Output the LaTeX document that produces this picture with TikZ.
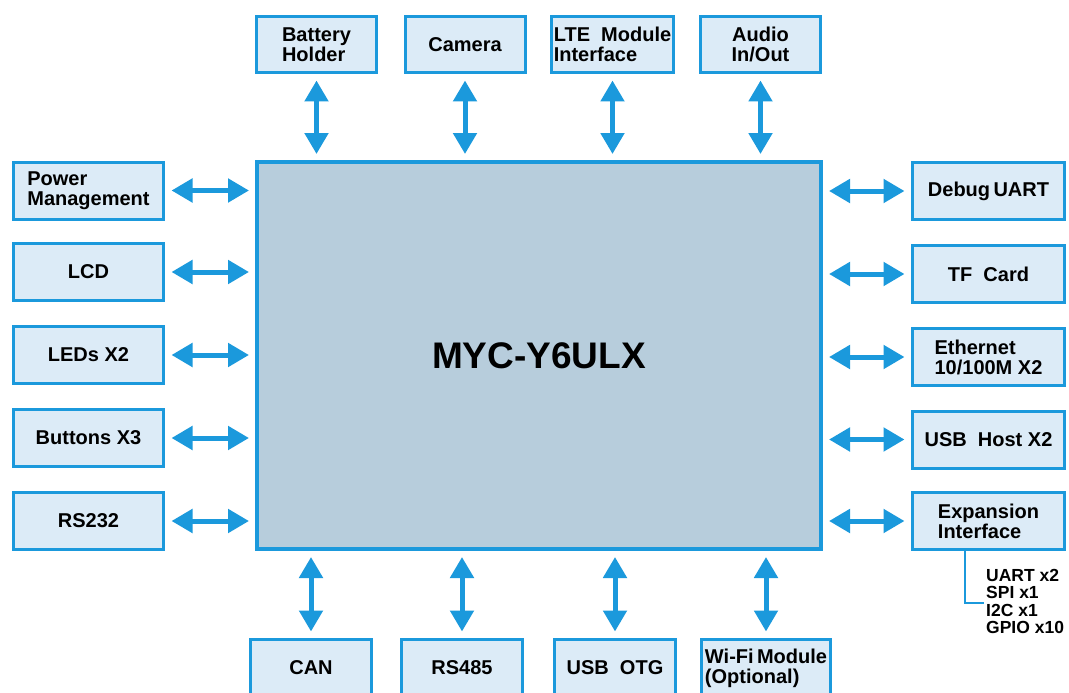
\documentclass[tikz,border=0pt]{standalone}
\usepackage{fontspec}
\setmainfont{Liberation Sans}
\usetikzlibrary{arrows.meta}
\definecolor{bline}{HTML}{1B99DC}
\definecolor{bfill}{HTML}{DCEBF7}
\definecolor{mfill}{HTML}{B7CDDC}
\tikzset{
  blk/.style={draw=bline, fill=bfill, line width=3pt, outer sep=0pt, inner sep=2pt,
    font=\fontsize{20}{20}\selectfont\bfseries, align=left, text=black},
  hbox/.style={blk, minimum width=150pt, minimum height=57pt},
  tbox/.style={blk, minimum width=120pt, minimum height=56pt},
  biarrow/.style={bline, line width=5pt,
    {Triangle[width=23pt,length=21pt]}-{Triangle[width=23pt,length=21pt]},
    shorten <=8pt, shorten >=8pt},
}
\begin{document}
\begin{tikzpicture}[x=1pt,y=-1pt]
\useasboundingbox (0,0) rectangle (1069,693);
\clip (0,0) rectangle (1069,693);
\fill[white] (0,0) rectangle (1069,693);
% main block
\node[draw=bline, fill=mfill, line width=4pt, outer sep=0pt, minimum width=564pt, minimum height=387pt,
  font=\fontsize{37}{37}\selectfont\bfseries] (main) at (539,355.5) {MYC-Y6ULX};
% top
\node[tbox] (bat) at (316.5,44.5) {Battery\\Holder};
\node[tbox] (cam) at (465,44.5) {Camera};
\node[tbox] (lte) at (612.5,44.5) {LTE\ \ Module\\Interface};
\node[tbox, align=center] (aud) at (760.5,44.5) {Audio\\In/Out};
% left
\node[hbox] (pwr) at (88.5,190.5) {Power\\Management};
\node[hbox] (lcd) at (88.5,272) {LCD};
\node[hbox] (led) at (88.5,355) {LEDs X2};
\node[hbox] (btn) at (88.5,438) {Buttons X3};
\node[hbox] (rs2) at (88.5,521) {RS232};
% right
\node[hbox, minimum width=152pt] (dbg) at (988.5,191) {Debug\,UART};
\node[hbox, minimum width=152pt] (tf) at (988.5,274) {TF\ \ Card};
\node[hbox, minimum width=152pt] (eth) at (988.5,357) {Ethernet\\10/100M X2};
\node[hbox, minimum width=152pt] (usbh) at (988.5,439.5) {USB\ \ Host X2};
\node[hbox, minimum width=152pt] (exp) at (988.5,521) {Expansion\\Interface};
% bottom
\node[tbox, minimum width=121pt, minimum height=57pt] (can) at (311,668) {CAN};
\node[tbox, minimum width=121pt, minimum height=57pt] (rs4) at (462,668) {RS485};
\node[tbox, minimum width=121pt, minimum height=57pt] (otg) at (615,668) {USB\ \ OTG};
\node[tbox, minimum width=129pt, minimum height=57pt, inner sep=1pt] (wifi) at (766,668) {Wi-Fi\,Module\\(Optional)};
% arrows top
\foreach \n in {bat,cam,lte,aud} \draw[biarrow] (\n.south) -- (\n.south |- main.north);
% arrows left
\foreach \n in {pwr,lcd,led,btn,rs2} \draw[biarrow] (\n.east) -- (\n.east -| main.west);
% arrows right
\foreach \n in {dbg,tf,eth,usbh,exp} \draw[biarrow] (\n.west -| main.east) -- (\n.west);
% arrows bottom
\foreach \n in {can,rs4,otg,wifi} \draw[biarrow] (\n.north |- main.south) -- (\n.north);
% expansion list
\coordinate (bk) at (965,603);
\coordinate (bkend) at (984,603);
\draw[bline, line width=2.5pt] (exp.south -| bk) -- (bk) -- (bkend);
\node[anchor=north west, inner sep=0pt, align=left, font=\fontsize{17.5}{17.5}\selectfont\bfseries] (lst) at (986,569)
  {UART x2\\SPI x1\\I2C x1\\GPIO x10};
\end{tikzpicture}
\end{document}
